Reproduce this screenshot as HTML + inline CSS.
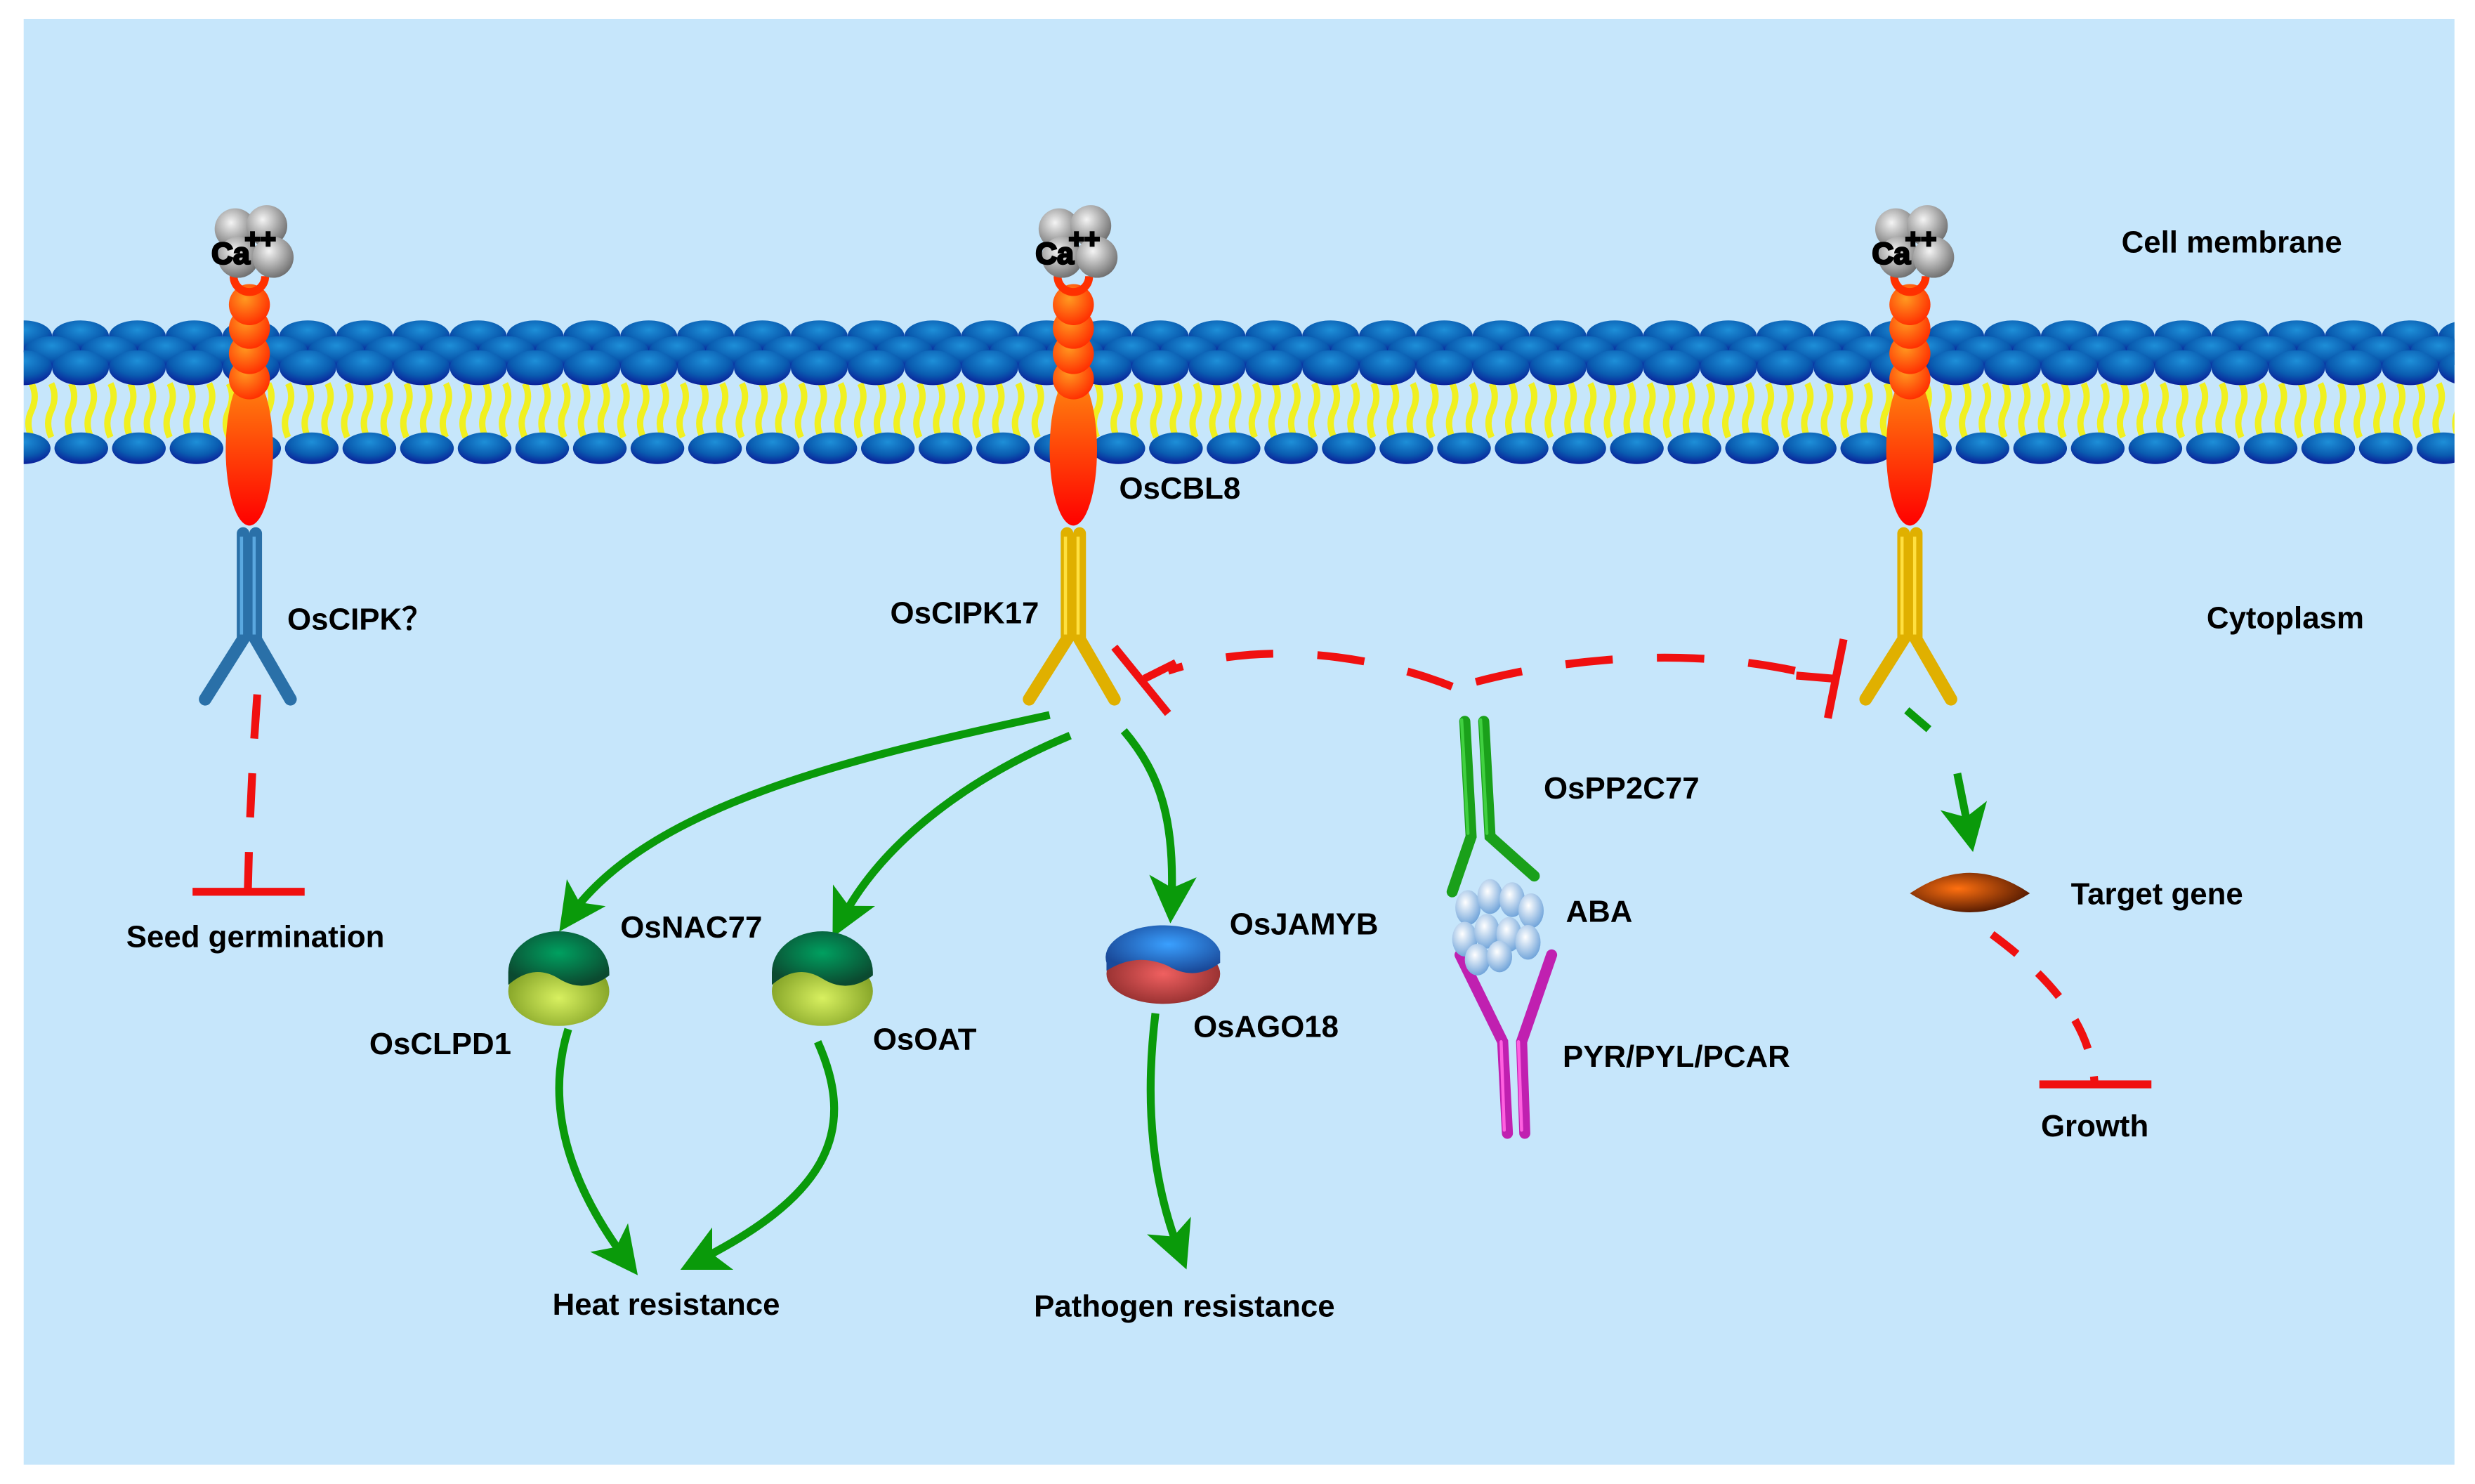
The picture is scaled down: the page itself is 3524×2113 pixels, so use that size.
<!DOCTYPE html>
<html><head><meta charset="utf-8"><style>
html,body{margin:0;padding:0;background:#fff;}
svg{display:block;}
text{font-family:"Liberation Sans",Arial,sans-serif;font-weight:bold;fill:#000;}
</style></head><body>
<svg id="s" width="3524" height="2113" viewBox="0 0 1568 940.2" preserveAspectRatio="none" xmlns="http://www.w3.org/2000/svg">
<defs>
<clipPath id="pc"><rect x="15" y="12" width="1540" height="916"/></clipPath>
<radialGradient id="head" cx="0.5" cy="0.3" r="0.7"><stop offset="0" stop-color="#1e8fd8"/><stop offset="0.6" stop-color="#0a5cb0"/><stop offset="1" stop-color="#0a1f9a"/></radialGradient>
<radialGradient id="ball" cx="0.4" cy="0.35" r="0.7"><stop offset="0" stop-color="#ff9a20"/><stop offset="1" stop-color="#ff2a00"/></radialGradient>
<linearGradient id="cbl" x1="0" y1="0" x2="0" y2="1"><stop offset="0" stop-color="#ff8a10"/><stop offset="1" stop-color="#ff0000"/></linearGradient>
<radialGradient id="ca" cx="0.4" cy="0.35" r="0.7"><stop offset="0" stop-color="#f4f4f4"/><stop offset="1" stop-color="#6a6a6a"/></radialGradient>
<radialGradient id="dg" cx="0.5" cy="0.4" r="0.6"><stop offset="0" stop-color="#00a060"/><stop offset="1" stop-color="#0b4a30"/></radialGradient>
<radialGradient id="lg" cx="0.5" cy="0.6" r="0.6"><stop offset="0" stop-color="#d8f060"/><stop offset="1" stop-color="#7a9a20"/></radialGradient>
<radialGradient id="bl" cx="0.55" cy="0.4" r="0.6"><stop offset="0" stop-color="#3aa0ff"/><stop offset="1" stop-color="#1a4a9a"/></radialGradient>
<radialGradient id="rd" cx="0.5" cy="0.5" r="0.6"><stop offset="0" stop-color="#f06060"/><stop offset="1" stop-color="#8a2a2a"/></radialGradient>
<radialGradient id="tg" cx="0.4" cy="0.4" r="0.7"><stop offset="0" stop-color="#ff7010"/><stop offset="1" stop-color="#401000"/></radialGradient>
<radialGradient id="aba" cx="0.4" cy="0.35" r="0.7"><stop offset="0" stop-color="#ffffff"/><stop offset="1" stop-color="#6aa0d8"/></radialGradient>
<marker id="ga" markerWidth="6" markerHeight="6" refX="4" refY="3" orient="auto" markerUnits="strokeWidth"><path d="M0,0 L6,3 L0,6 L1.5,3 Z" fill="#0a9a0a"/></marker>
</defs>
<rect x="0" y="0" width="1568" height="941" fill="#fff"/>
<rect x="15" y="12" width="1540" height="916" fill="#c6e6fb"/>
<g id="mem" clip-path="url(#pc)"></g>

<g fill="none" stroke="#0a9a0a" stroke-width="5" marker-end="url(#ga)">
<path d="M665,453 C540,480 410,510 360,582"/>
<path d="M678,466 C620,490 560,530 532,585"/>
<path d="M712,463 C735,490 745,520 742,575"/>
<path d="M360,652 C345,700 360,750 398,800"/>
<path d="M518,660 C545,720 520,760 440,800"/>
<path d="M732,642 C725,700 730,750 748,795"/>
<path d="M1240,490 L1248,530"/>
</g>
<path d="M1208,450 L1222,462" stroke="#0a9a0a" stroke-width="5"/>
<g fill="none" stroke="#f01010" stroke-width="5">
<path d="M163,440 C160,480 158,520 157,565" stroke-dasharray="28,22"/>
<path d="M122,565 L193,565"/>
<path d="M920,435 C870,415 800,405 740,425" stroke-dasharray="30,28"/>
<path d="M706,410 L740,452"/>
<path d="M725,430 L745,420"/>
<path d="M935,432 C1000,415 1080,410 1150,428" stroke-dasharray="30,28"/>
<path d="M1168,405 L1158,455"/>
<path d="M1138,428 L1162,430"/>
<path d="M1262,592 C1300,620 1325,650 1327,687" stroke-dasharray="20,18"/>
<path d="M1292,687 L1363,687"/>
</g>

<g stroke-linecap="round" fill="none">
<path d="M928,457 L932,530 L920,565 M940,457 L944,530 L972,555" stroke="#1aa01a" stroke-width="7"/>
<path d="M926,456 L930,528 M938,456 L942,528" stroke="#40d040" stroke-width="2"/>
<path d="M955,718 L952,660 L925,605 M966,718 L964,660 L983,605" stroke="#c020b0" stroke-width="7"/>
<path d="M953,716 L951,660 M964,716 L962,660" stroke="#ff60e0" stroke-width="2"/>
</g>
<g fill="url(#aba)">
<ellipse cx="930" cy="575" rx="8" ry="11"/><ellipse cx="944" cy="568" rx="8" ry="11"/><ellipse cx="958" cy="570" rx="8" ry="11"/><ellipse cx="970" cy="577" rx="8" ry="11"/>
<ellipse cx="928" cy="595" rx="8" ry="11"/><ellipse cx="942" cy="590" rx="8" ry="11"/><ellipse cx="956" cy="592" rx="8" ry="11"/><ellipse cx="968" cy="597" rx="8" ry="11"/>
<ellipse cx="936" cy="608" rx="8" ry="10"/><ellipse cx="950" cy="606" rx="8" ry="10"/>
</g>

<g>
<ellipse cx="354" cy="628" rx="32" ry="22" fill="url(#lg)"/>
<path d="M322,616 A32,26 0 0 1 386,616 L386,618 Q370,630 354,620 Q338,610 322,624 Z" fill="url(#dg)"/>
<ellipse cx="521" cy="628" rx="32" ry="22" fill="url(#lg)"/>
<path d="M489,616 A32,26 0 0 1 553,616 L553,618 Q537,630 521,620 Q505,610 489,624 Z" fill="url(#dg)"/>
<ellipse cx="737" cy="617" rx="36" ry="19" fill="url(#rd)"/>
<path d="M701,610 A36,20 0 0 1 773,603 L773,610 Q757,622 740,612 Q720,603 701,615 Z" fill="url(#bl)"/>
<path d="M1210,566 Q1248,540 1286,566 Q1248,590 1210,566 Z" fill="url(#tg)"/>
</g>

<g id="rec"></g>

<text x="1344" y="160" font-size="19.5">Cell membrane</text>
<text x="1398" y="398" font-size="19.5">Cytoplasm</text>
<text x="709" y="316" font-size="19.5">OsCBL8</text>
<text x="564" y="395" font-size="19.5">OsCIPK17</text>
<text x="182" y="399" font-size="19.5">OsCIPK？</text>
<text x="80" y="600" font-size="19.5">Seed germination</text>
<text x="393" y="594" font-size="19.5">OsNAC77</text>
<text x="234" y="668" font-size="19.5">OsCLPD1</text>
<text x="553" y="665" font-size="19.5">OsOAT</text>
<text x="779" y="592" font-size="19.5">OsJAMYB</text>
<text x="756" y="657" font-size="19.5">OsAGO18</text>
<text x="978" y="506" font-size="19.5">OsPP2C77</text>
<text x="992" y="584" font-size="19.5">ABA</text>
<text x="990" y="676" font-size="19.5">PYR/PYL/PCAR</text>
<text x="1312" y="573" font-size="19.5">Target gene</text>
<text x="1293" y="720" font-size="19.5">Growth</text>
<text x="350" y="833" font-size="19.5">Heat resistance</text>
<text x="655" y="834" font-size="19.5">Pathogen resistance</text>
</svg>
<script>
var NS="http://www.w3.org/2000/svg";
function el(p,t,a){var e=document.createElementNS(NS,t);for(var k in a)e.setAttribute(k,a[k]);p.appendChild(e);return e;}
var m=document.getElementById('mem');
var d="";
for(var x=20;x<1560;x+=12.5){d+="M"+x+",243 q4,8 0,17 q-4,8 0,17 ";}
el(m,'path',{d:d,stroke:"#f0f020","stroke-width":4,fill:"none"});
[[213,0,10],[223,18,10],[233,0,11]].forEach(function(r){for(var x=15+r[1];x<1570;x+=36)el(m,'ellipse',{cx:x,cy:r[0],rx:18,ry:r[2],fill:"url(#head)"});});
for(var x=15;x<1570;x+=36.5)el(m,'ellipse',{cx:x,cy:284,rx:17,ry:10,fill:"url(#head)"});
var g=document.getElementById('rec');
[[158,"#2a70a8","#5aa8e0"],[680,"#e0b000","#ffe040"],[1210,"#e0b000","#ffe040"]].forEach(function(r){
 var x=r[0];
 el(g,'ellipse',{cx:x,cy:285,rx:15,ry:48,fill:"url(#cbl)"});
 [240,224,208,193].forEach(function(y){el(g,'circle',{cx:x,cy:y,r:13,fill:"url(#ball)"});});
 el(g,'path',{d:"M"+(x-10)+",175 A10,10 0 0 0 "+(x+10)+",175",stroke:"#ff3000","stroke-width":5,fill:"none"});
 [[-12,-10],[8,-12],[-10,8],[12,8]].forEach(function(o){el(g,'circle',{cx:x+o[0]+3,cy:155+o[1],r:13,fill:"url(#ca)"});});
 var t=el(g,'text',{x:x-24,y:167,"font-size":19,fill:"#fff",stroke:"#000","stroke-width":1.2});t.textContent="Ca";
 var t2=el(g,'text',{x:x-3,y:157,"font-size":17,fill:"#fff",stroke:"#000","stroke-width":1.2});t2.textContent="++";
 var p="M"+(x-4)+",338 L"+(x-4)+",405 L"+(x-28)+",443 M"+(x+4)+",338 L"+(x+4)+",405 L"+(x+26)+",443";
 el(g,'path',{d:p,stroke:r[1],"stroke-width":8,fill:"none","stroke-linecap":"round"});
 el(g,'path',{d:"M"+(x-5)+",340 L"+(x-5)+",402 M"+(x+3)+",340 L"+(x+3)+",402",stroke:r[2],"stroke-width":2,fill:"none"});
});
</script>
</body></html>
